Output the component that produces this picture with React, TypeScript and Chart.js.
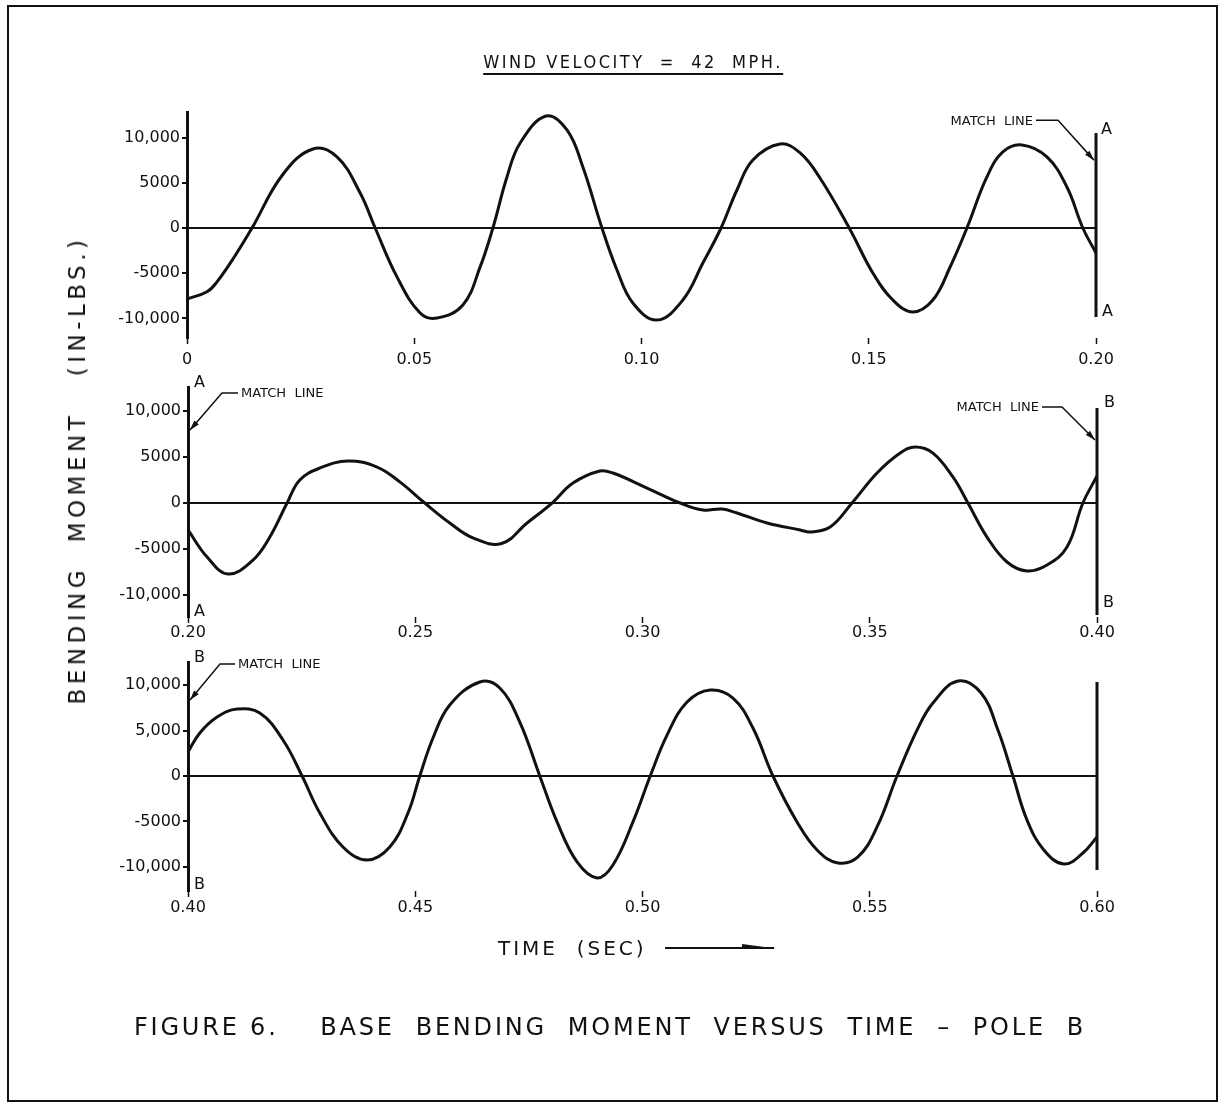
import React, { useEffect, useRef } from "react";
import { Chart, registerables } from "chart.js";
Chart.register(...registerables);

// ---------- DATA ----------
const yTickValues = [-10000, -5000, 0, 5000, 10000];
const yTickLabelsA = ["-10,000", "-5000", "0", "5000", "10,000"];
const yTickLabelsC = ["-10,000", "-5000", "0", "5,000", "10,000"];

const xTicks1 = [0, 0.05, 0.1, 0.15, 0.2];
const xTickLabels1 = ["0", "0.05", "0.10", "0.15", "0.20"];
const xTicks2 = [0.2, 0.25, 0.3, 0.35, 0.4];
const xTickLabels2 = ["0.20", "0.25", "0.30", "0.35", "0.40"];
const xTicks3 = [0.4, 0.45, 0.5, 0.55, 0.6];
const xTickLabels3 = ["0.40", "0.45", "0.50", "0.55", "0.60"];

const time1 = [0, 0.0044, 0.0066, 0.0104, 0.0143, 0.021, 0.0277, 0.033, 0.0381, 0.0414, 0.0462, 0.0513, 0.055, 0.0607, 0.0645, 0.0673, 0.0704, 0.0733, 0.079, 0.0836, 0.0871, 0.0913, 0.0946, 0.0981, 0.1034, 0.1091, 0.1135, 0.1175, 0.121, 0.1245, 0.1305, 0.1349, 0.1393, 0.1457, 0.1509, 0.1553, 0.1597, 0.1641, 0.1679, 0.1716, 0.176, 0.1795, 0.1837, 0.1892, 0.1936, 0.1971, 0.2];
const moment1 = [-7850, -7050, -5950, -3200, 0, 5860, 8730, 7850, 3870, 0, -5400, -9400, -9950, -8500, -4300, 0, 5640, 9390, 12380, 10830, 6740, 0, -4640, -8290, -10170, -7960, -3870, 0, 4200, 7510, 9280, 8290, 5500, 0, -4970, -7960, -9280, -7960, -4310, 0, 5640, 8400, 9170, 7850, 4530, 0, -2760];

const time2 = [0.2, 0.2042, 0.2088, 0.2143, 0.218, 0.2218, 0.2246, 0.229, 0.2352, 0.2416, 0.2466, 0.2521, 0.2576, 0.2627, 0.269, 0.2746, 0.2801, 0.2847, 0.2906, 0.2935, 0.301, 0.3083, 0.3133, 0.3175, 0.3208, 0.3274, 0.3347, 0.3369, 0.3413, 0.3461, 0.3516, 0.3567, 0.36, 0.3639, 0.3683, 0.3716, 0.3758, 0.3802, 0.3846, 0.389, 0.3934, 0.3969, 0.4];
const moment2 = [-2930, -5870, -7720, -6200, -3700, 0, 2500, 3800, 4570, 3910, 2300, 0, -2170, -3800, -4400, -2170, 0, 2170, 3480, 3260, 1630, 0, -760, -650, -1090, -2170, -2930, -3150, -2610, 0, 3260, 5430, 6090, 5430, 2830, 0, -3700, -6410, -7390, -6740, -4780, 0, 2930];

const time3 = [0.4, 0.4026, 0.4064, 0.4108, 0.4158, 0.4209, 0.4251, 0.429, 0.4341, 0.4394, 0.4444, 0.4484, 0.451, 0.4539, 0.4576, 0.4642, 0.4686, 0.473, 0.4774, 0.4812, 0.4856, 0.49, 0.4935, 0.4979, 0.5017, 0.5054, 0.5098, 0.5149, 0.5199, 0.5243, 0.5287, 0.534, 0.5384, 0.543, 0.5474, 0.5516, 0.556, 0.5604, 0.5639, 0.5694, 0.5745, 0.5782, 0.5815, 0.5846, 0.5883, 0.5927, 0.5969, 0.6];
const moment3 = [2640, 4730, 6480, 7360, 6920, 3960, 0, -4070, -7800, -9230, -7800, -4070, 0, 4180, 7800, 10330, 9670, 5930, 0, -5050, -9450, -11200, -9780, -5050, 0, 4500, 8130, 9450, 8570, 5270, 0, -5050, -8130, -9560, -8900, -5600, 0, 5050, 8020, 10440, 9120, 5050, 0, -4840, -8130, -9670, -8460, -6700];

// match line extents (values at the end of each panel)
const matchLine1 = [10500, -9830];
const matchLine2 = [10330, -12170];
const matchLine3 = [10330, -10330];

// ---------- LAYOUT / STYLE ----------
const W = 1224;
const H = 1111;
const INK = "#111";
const FONT = "'DejaVu Sans', sans-serif";

type Leader = { t: number; value: number; dx: number; dy: number; run: number; text: string };
type Letter = { t: number; value: number; text: string; dx: number };

type PanelCfg = {
  time: number[];
  moment: number[];
  xTicks: number[];
  xLabels: string[];
  yLabels: string[];
  match: number[];
  tMin: number;
  tMax: number;
  yMin: number;
  yMax: number;
  top: number;
  bottom: number;
  left: number;
  right: number;
  xPad: number;
  leaders: Leader[];
  letters: Letter[];
};

const panels: PanelCfg[] = [
  {
    time: time1, moment: moment1, xTicks: xTicks1, xLabels: xTickLabels1, yLabels: yTickLabelsA, match: matchLine1,
    tMin: 0, tMax: 0.2, yMin: -12155, yMax: 12818, top: 112, bottom: 338, left: 187, right: 1096, xPad: 6,
    leaders: [{ t: 0.2, value: 7500, dx: -36, dy: -40, run: -22, text: "MATCH  LINE" }],
    letters: [
      { t: 0.2, value: 10830, text: "A", dx: 5 },
      { t: 0.2, value: -9280, text: "A", dx: 6 },
    ],
  },
  {
    time: time2, moment: moment2, xTicks: xTicks2, xLabels: xTickLabels2, yLabels: yTickLabelsA, match: matchLine2,
    tMin: 0.2, tMax: 0.4, yMin: -12390, yMax: 12610, top: 387, bottom: 617, left: 188, right: 1097, xPad: 0,
    leaders: [
      { t: 0.2, value: 7930, dx: 32, dy: -37, run: 16, text: "MATCH  LINE" },
      { t: 0.4, value: 6850, dx: -33, dy: -33, run: -20, text: "MATCH  LINE" },
    ],
    letters: [
      { t: 0.2, value: 13040, text: "A", dx: 6 },
      { t: 0.2, value: -11850, text: "A", dx: 6 },
      { t: 0.4, value: 10870, text: "B", dx: 7 },
      { t: 0.4, value: -10870, text: "B", dx: 6 },
    ],
  },
  {
    time: time3, moment: moment3, xTicks: xTicks3, xLabels: xTickLabels3, yLabels: yTickLabelsC, match: matchLine3,
    tMin: 0.4, tMax: 0.6, yMin: -12640, yMax: 12530, top: 662, bottom: 891, left: 188, right: 1097, xPad: 1,
    leaders: [{ t: 0.4, value: 8350, dx: 30, dy: -36, run: 15, text: "MATCH  LINE" }],
    letters: [
      { t: 0.4, value: 12970, text: "B", dx: 6 },
      { t: 0.4, value: -11980, text: "B", dx: 6 },
    ],
  },
];

function makeAnnotPlugin(cfg: PanelCfg, idx: number) {
  return {
    id: "annot" + idx,
    afterDraw(chart: any) {
      const ctx = chart.ctx as CanvasRenderingContext2D;
      const xs = chart.scales.x;
      const ys = chart.scales.y;
      ctx.save();
      ctx.strokeStyle = INK;
      ctx.fillStyle = INK;
      for (const l of cfg.leaders) {
        const tx = xs.getPixelForValue(l.t) + (l.run > 0 ? 2 : -2);
        const ty = ys.getPixelForValue(l.value);
        const kx = tx + l.dx;
        const ky = ty + l.dy;
        const ex = kx + l.run;
        ctx.lineWidth = 1.5;
        ctx.beginPath();
        ctx.moveTo(ex, ky);
        ctx.lineTo(kx, ky);
        ctx.lineTo(tx, ty);
        ctx.stroke();
        const ang = Math.atan2(ty - ky, tx - kx);
        const len = 10;
        const hw = 3;
        ctx.beginPath();
        ctx.moveTo(tx, ty);
        ctx.lineTo(tx - len * Math.cos(ang) + hw * Math.sin(ang), ty - len * Math.sin(ang) - hw * Math.cos(ang));
        ctx.lineTo(tx - len * Math.cos(ang) - hw * Math.sin(ang), ty - len * Math.sin(ang) + hw * Math.cos(ang));
        ctx.closePath();
        ctx.fill();
        ctx.font = `13px ${FONT}`;
        ctx.textBaseline = "middle";
        ctx.textAlign = l.run < 0 ? "right" : "left";
        ctx.fillText(l.text, ex + (l.run < 0 ? -3 : 3), ky + 1);
      }
      ctx.font = `16px ${FONT}`;
      ctx.textBaseline = "middle";
      ctx.textAlign = "left";
      for (const L of cfg.letters) {
        ctx.fillText(L.text, xs.getPixelForValue(L.t) + L.dx, ys.getPixelForValue(L.value));
      }
      ctx.restore();
    },
  };
}

function Panel({ cfg, idx }: { cfg: PanelCfg; idx: number }) {
  const ref = useRef<HTMLCanvasElement>(null);
  useEffect(() => {
    const canvas = ref.current;
    if (!canvas) return;
    const X_AXIS_H = 40;
    const chart = new Chart(canvas, {
      type: "line",
      data: {
        datasets: [
          {
            data: cfg.time.map((t, i) => ({ x: t, y: cfg.moment[i] })),
            borderColor: INK,
            borderWidth: 3,
            pointRadius: 0,
            tension: 0.4,
            fill: false,
            clip: false,
          },
          {
            data: [
              { x: cfg.tMax, y: cfg.match[0] },
              { x: cfg.tMax, y: cfg.match[1] },
            ],
            borderColor: INK,
            borderWidth: 3,
            pointRadius: 0,
            tension: 0,
            fill: false,
            clip: false,
          },
        ],
      },
      options: {
        animation: false,
        responsive: false,
        devicePixelRatio: 1,
        events: [],
        layout: {
          padding: { left: 0, right: W - cfg.right, top: cfg.top, bottom: H - cfg.bottom - X_AXIS_H },
        },
        plugins: { legend: { display: false }, tooltip: { enabled: false }, title: { display: false } },
        scales: {
          x: {
            type: "linear",
            min: cfg.tMin,
            max: cfg.tMax,
            afterFit: (s: any) => {
              s.height = X_AXIS_H;
            },
            afterBuildTicks: (s: any) => {
              s.ticks = cfg.xTicks.map((v) => ({ value: v }));
            },
            ticks: {
              autoSkip: false,
              maxRotation: 0,
              padding: cfg.xPad,
              color: INK,
              font: { family: FONT, size: 16 },
              callback: (_v: any, i: number) => cfg.xLabels[i],
            },
            grid: { drawOnChartArea: false, tickLength: 6, tickWidth: 1.5, color: INK },
            border: { display: false },
          },
          y: {
            type: "linear",
            min: cfg.yMin,
            max: cfg.yMax,
            afterFit: (s: any) => {
              s.width = cfg.left;
            },
            afterBuildTicks: (s: any) => {
              s.ticks = yTickValues.map((v) => ({ value: v }));
            },
            ticks: {
              padding: 2,
              color: INK,
              font: { family: FONT, size: 16 },
              callback: (_v: any, i: number) => cfg.yLabels[i],
            },
            grid: {
              color: (c: any) => (c.tick && c.tick.value === 0 ? INK : "rgba(0,0,0,0)"),
              lineWidth: 2,
              tickColor: INK,
              tickLength: 5,
              tickWidth: 2,
            },
            border: { display: true, color: INK, width: 3 },
          },
        },
      } as any,
      plugins: [makeAnnotPlugin(cfg, idx)],
    });
    return () => chart.destroy();
  }, []);
  return <canvas ref={ref} width={W} height={H} style={{ position: "absolute", left: 0, top: 0 }} />;
}

export default function App() {
  return (
    <div style={{ position: "absolute", left: 0, top: 0, width: W, height: H, background: "#fff", overflow: "hidden", fontFamily: FONT, color: INK }}>
      <div style={{ position: "absolute", left: 7, top: 5, width: 1207, height: 1093, border: `2px solid ${INK}` }} />
      {panels.map((p, i) => (
        <Panel key={i} cfg={p} idx={i} />
      ))}
      <div
        style={{
          position: "absolute",
          left: 633,
          top: 50,
          transform: "translateX(-50%)",
          fontFamily: "'DejaVu Sans Condensed', 'DejaVu Sans', sans-serif",
          fontSize: 18,
          letterSpacing: 2.5,
          whiteSpace: "pre",
          borderBottom: `2px solid ${INK}`,
          lineHeight: "23px",
        }}
      >
        {"WIND VELOCITY  =  42  MPH."}
      </div>
      <div
        style={{
          position: "absolute",
          left: 77,
          top: 470,
          transform: "translate(-50%, -50%) rotate(-90deg)",
          fontSize: 23,
          letterSpacing: 4.5,
          whiteSpace: "pre",
          lineHeight: "28px",
        }}
      >
        {"BENDING  MOMENT   (IN-LBS.)"}
      </div>
      <div style={{ position: "absolute", left: 498, top: 935, fontSize: 20, letterSpacing: 3, whiteSpace: "pre", lineHeight: "26px" }}>
        {"TIME  (SEC)"}
      </div>
      <svg style={{ position: "absolute", left: 660, top: 940 }} width={125} height={16}>
        <line x1={5} y1={8} x2={114} y2={8} stroke={INK} strokeWidth={2} />
        <polygon points="82,4 116,8.5 82,9" fill={INK} />
      </svg>
      <div
        style={{
          position: "absolute",
          left: 610,
          top: 1027,
          transform: "translate(-50%, -50%)",
          fontSize: 24,
          letterSpacing: 2.8,
          whiteSpace: "pre",
          lineHeight: "30px",
        }}
      >
        {"FIGURE 6.    BASE  BENDING  MOMENT  VERSUS  TIME  \u2013  POLE  B"}
      </div>
    </div>
  );
}
